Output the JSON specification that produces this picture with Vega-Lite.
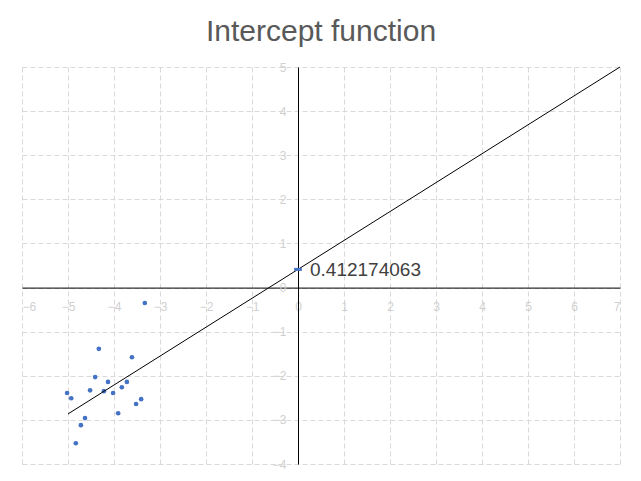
{
  "$schema": "https://vega.github.io/schema/vega-lite/v6.json",
  "autosize": {"type": "none"},
  "width": 598,
  "height": 397,
  "padding": {"left": 22, "top": 67, "right": 21, "bottom": 17},
  "background": "white",
  "config": {
    "view": {"stroke": null},
    "font": "Liberation Sans"
  },
  "title": {
    "text": "Intercept function",
    "fontSize": 30,
    "fontWeight": "normal",
    "color": "#595959",
    "font": "Liberation Sans",
    "offset": 14
  },
  "layer": [
    {
      "data": {"values": [
        {"x": -4.33, "y": -1.39},
        {"x": -3.61, "y": -1.58},
        {"x": -4.41, "y": -2.03},
        {"x": -4.13, "y": -2.14},
        {"x": -3.72, "y": -2.14},
        {"x": -4.52, "y": -2.33},
        {"x": -4.22, "y": -2.35},
        {"x": -3.83, "y": -2.26},
        {"x": -4.02, "y": -2.39},
        {"x": -5.02, "y": -2.39},
        {"x": -4.93, "y": -2.51},
        {"x": -3.41, "y": -2.53},
        {"x": -3.52, "y": -2.64},
        {"x": -3.91, "y": -2.85},
        {"x": -4.63, "y": -2.96},
        {"x": -4.72, "y": -3.12},
        {"x": -4.83, "y": -3.53},
        {"x": -3.33, "y": -0.35}
      ]},
      "mark": {"type": "point", "filled": true, "shape": "circle", "size": 22, "color": "#4472C4", "opacity": 1},
      "encoding": {
        "x": {
          "field": "x", "type": "quantitative",
          "scale": {"domain": [-6, 7], "nice": false, "zero": false},
          "axis": {
            "title": null,
            "values": [-6, -5, -4, -3, -2, -1, 0, 1, 2, 3, 4, 5, 6, 7],
            "offset": -176.4,
            "grid": true,
            "gridColor": "#d9d9d9",
            "gridDash": [5, 3],
            "gridWidth": 1,
            "domainColor": "#000000",
            "domainWidth": 1,
            "ticks": false,
            "tickSize": 0,
            "labelPadding": 14,
            "labelColor": "#d0d0d0",
            "labelFontSize": 12,
            "labelFont": "Liberation Sans"
          }
        },
        "y": {
          "field": "y", "type": "quantitative",
          "scale": {"domain": [-4, 5], "nice": false, "zero": false},
          "axis": {
            "title": null,
            "values": [-4, -3, -2, -1, 0, 1, 2, 3, 4, 5],
            "offset": -276,
            "grid": true,
            "gridColor": "#d9d9d9",
            "gridDash": [5, 3],
            "gridWidth": 1,
            "domainColor": "#000000",
            "domainWidth": 1,
            "ticks": false,
            "tickSize": 0,
            "labelPadding": 12,
            "labelColor": "#d0d0d0",
            "labelFontSize": 12,
            "labelFont": "Liberation Sans"
          }
        }
      }
    },
    {
      "data": {"values": [
        {"x": -5.0, "y": -2.865},
        {"x": 7.0, "y": 5.0}
      ]},
      "mark": {"type": "line", "color": "#000000", "strokeWidth": 1},
      "encoding": {
        "x": {"field": "x", "type": "quantitative"},
        "y": {"field": "y", "type": "quantitative"}
      }
    },
    {
      "data": {"values": [
        {"x": 0, "y": 0.412174063, "label": "0.412174063"}
      ]},
      "layer": [
        {
          "mark": {"type": "point", "shape": "stroke", "size": 60, "strokeWidth": 3, "color": "#4472C4", "filled": false, "opacity": 1},
          "encoding": {
            "x": {"field": "x", "type": "quantitative"},
            "y": {"field": "y", "type": "quantitative"}
          }
        },
        {
          "mark": {"type": "text", "align": "left", "baseline": "middle", "dx": 12, "dy": 1, "fontSize": 19, "color": "#404040", "font": "Liberation Sans"},
          "encoding": {
            "x": {"field": "x", "type": "quantitative"},
            "y": {"field": "y", "type": "quantitative"},
            "text": {"field": "label"}
          }
        }
      ]
    }
  ]
}
